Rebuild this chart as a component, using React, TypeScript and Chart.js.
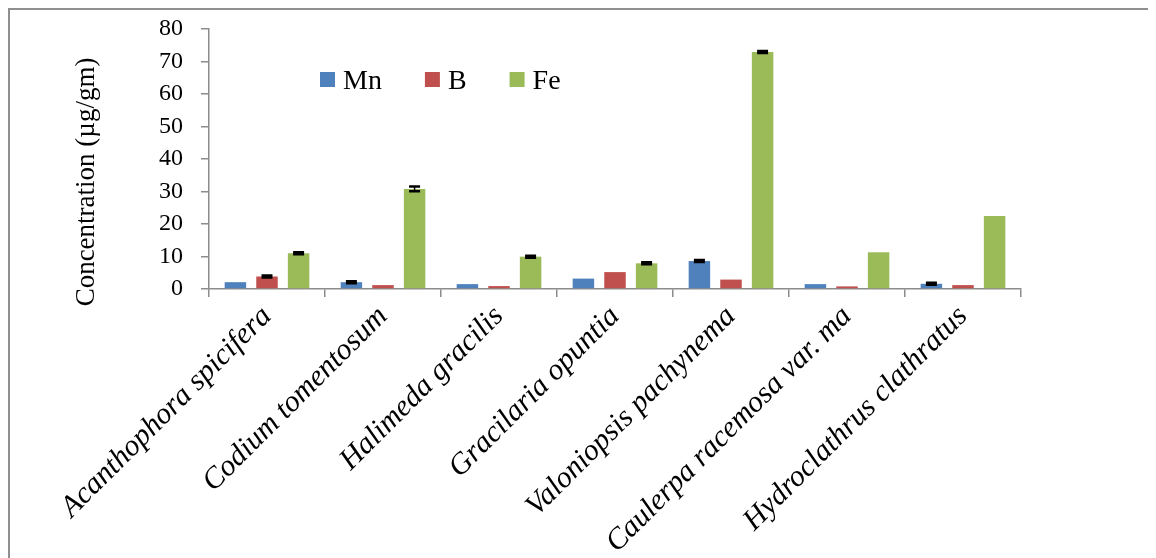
import React, { useEffect, useRef } from "react";
import { Chart, registerables } from "chart.js";

Chart.register(...registerables);

// Seaweed species on the category axis
const species = [
  "Acanthophora spicifera",
  "Codium tomentosum",
  "Halimeda gracilis",
  "Gracilaria opuntia",
  "Valoniopsis pachynema",
  "Caulerpa racemosa var. ma",
  "Hydroclathrus clathratus",
];

// Mean concentrations (µg/gm)
const mnValues = [2.1, 2.1, 1.5, 3.2, 8.6, 1.5, 1.6];
const bValues = [3.85, 1.2, 0.9, 5.2, 2.9, 0.8, 1.2];
const feValues = [11.0, 30.8, 9.95, 7.9, 72.9, 11.3, 22.5];

// Standard errors (null where no bar is drawn)
const mnErrors = [null, 0.3, null, null, 0.3, null, 0.3];
const bErrors = [0.3, null, null, null, null, null, null];
const feErrors = [0.3, 0.75, 0.3, 0.3, 0.3, null, null];

const seriesNames = ["Mn", "B", "Fe"];
const seriesColors = ["#4F81BD", "#C0504D", "#9BBB59"];

const yMin = 0;
const yMax = 80;
const yStep = 10;

const yTitle = "Concentration (µg/gm)";

const SERIF = "'Liberation Serif', 'Times New Roman', serif";

// Black error bars with caps, drawn over each bar
const errorBarPlugin = {
  id: "errorBars",
  afterDatasetsDraw(chart: any) {
    const { ctx } = chart;
    const yScale = chart.scales.y;
    chart.data.datasets.forEach((ds: any, di: number) => {
      const meta = chart.getDatasetMeta(di);
      const errs = ds.errors || [];
      meta.data.forEach((bar: any, i: number) => {
        const e = errs[i];
        if (e == null) return;
        const v = ds.data[i];
        const top = yScale.getPixelForValue(v + e);
        const bot = yScale.getPixelForValue(v - e);
        const half = 5.5;
        ctx.save();
        ctx.strokeStyle = "#000";
        ctx.lineWidth = 1.5;
        ctx.beginPath();
        ctx.moveTo(bar.x, top);
        ctx.lineTo(bar.x, bot);
        ctx.stroke();
        ctx.lineWidth = 2.5;
        ctx.beginPath();
        ctx.moveTo(bar.x - half, top);
        ctx.lineTo(bar.x + half, top);
        ctx.moveTo(bar.x - half, bot);
        ctx.lineTo(bar.x + half, bot);
        ctx.stroke();
        ctx.restore();
      });
    });
  },
};

// Legend placed inside the plot area
const innerLegendPlugin = {
  id: "innerLegend",
  afterDraw(chart: any) {
    const { ctx, chartArea } = chart;
    const box = 15;
    let x = chartArea.left + 111;
    const yTop = chartArea.top + 43;
    ctx.save();
    ctx.font = `28px ${SERIF}`;
    ctx.textBaseline = "alphabetic";
    ctx.textAlign = "left";
    chart.data.datasets.forEach((ds: any) => {
      ctx.fillStyle = ds.backgroundColor;
      ctx.fillRect(x, yTop, box, box);
      ctx.fillStyle = "#000";
      const tx = x + box + 8;
      ctx.fillText(ds.label, tx, yTop + 17);
      x = tx + ctx.measureText(ds.label).width + 43;
    });
    ctx.restore();
  },
};

// Rotated value-axis title
const axisTitlePlugin = {
  id: "axisTitle",
  afterDraw(chart: any) {
    const { ctx, chartArea } = chart;
    ctx.save();
    ctx.translate(chartArea.left - 122, chartArea.top + 153);
    ctx.rotate(-Math.PI / 2);
    ctx.font = `27px ${SERIF}`;
    ctx.fillStyle = "#000";
    ctx.textAlign = "center";
    ctx.textBaseline = "middle";
    ctx.fillText(yTitle, 0, 0);
    ctx.restore();
  },
};

export default function App() {
  const canvasRef = useRef<HTMLCanvasElement | null>(null);

  useEffect(() => {
    document.documentElement.style.overflow = "hidden";
    document.body.style.overflow = "hidden";
    const canvas = canvasRef.current;
    if (!canvas) return;
    const errorSets = [mnErrors, bErrors, feErrors];
    const valueSets = [mnValues, bValues, feValues];
    const chart = new Chart(canvas, {
      type: "bar",
      data: {
        labels: species,
        datasets: seriesNames.map((name, i) => ({
          label: name,
          data: valueSets[i],
          errors: errorSets[i],
          backgroundColor: seriesColors[i],
          borderWidth: 0,
          categoryPercentage: 0.817,
          barPercentage: 0.68,
        })) as any,
      },
      options: {
        animation: false,
        responsive: false,
        devicePixelRatio: 1,
        layout: { padding: { top: 19, right: 135, left: 0, bottom: 0 } },
        plugins: {
          legend: { display: false },
          tooltip: { enabled: false },
        },
        scales: {
          x: {
            grid: {
              display: true,
              drawOnChartArea: false,
              drawTicks: true,
              tickLength: 8,
              color: "#8c8c8c",
              lineWidth: 1.5,
              offset: true,
            },
            border: { display: true, color: "#8c8c8c", width: 1.5 },
            ticks: {
              autoSkip: false,
              maxRotation: 45,
              minRotation: 45,
              padding: 2,
              color: "#000",
              font: { family: SERIF, size: 30, style: "italic" },
            },
            afterFit(scale: any) {
              scale.height = 269;
              scale.paddingLeft = 0;
              scale.paddingRight = 0;
            },
          },
          y: {
            min: yMin,
            max: yMax,
            grid: {
              display: true,
              drawOnChartArea: false,
              drawTicks: true,
              tickLength: 8,
              color: "#8c8c8c",
              lineWidth: 1.5,
            },
            border: { display: true, color: "#8c8c8c", width: 1.5 },
            ticks: {
              stepSize: yStep,
              autoSkip: false,
              padding: 18,
              color: "#000",
              font: { family: SERIF, size: 24 },
            },
            afterFit(scale: any) {
              scale.width = 199;
              scale.paddingTop = 0;
              scale.paddingBottom = 0;
            },
          },
        },
      },
      plugins: [errorBarPlugin, innerLegendPlugin, axisTitlePlugin],
    });
    return () => chart.destroy();
  }, []);

  return (
    <div
      style={{
        width: 1146,
        height: 548,
        borderLeft: "2px solid #8f8f8f",
        borderTop: "2px solid #8f8f8f",
        background: "#fff",
      }}
    >
      <canvas
        ref={canvasRef}
        width={1146}
        height={548}
        style={{ display: "block", width: 1146, height: 548 }}
      />
    </div>
  );
}
